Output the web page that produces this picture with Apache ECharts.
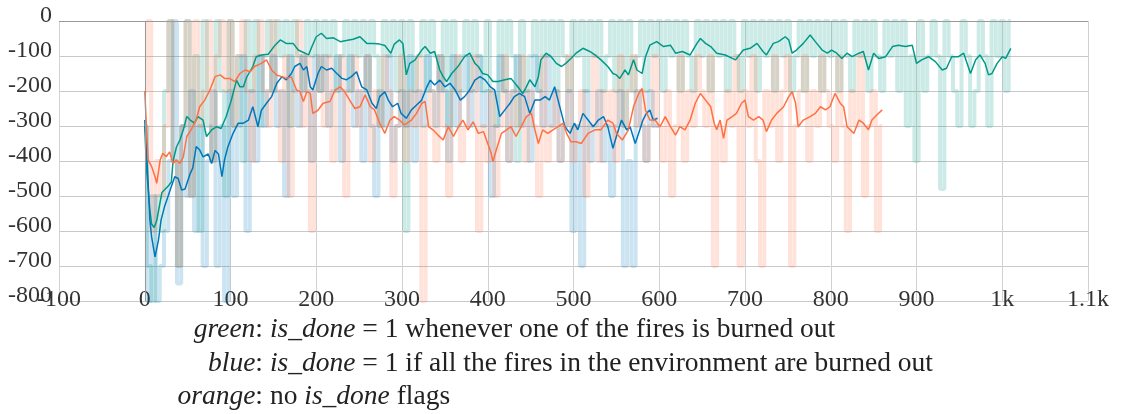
<!DOCTYPE html>
<html>
<head>
<meta charset="utf-8">
<script src="https://cdn.jsdelivr.net/npm/echarts@6/dist/echarts.min.js"></script>
<style>
  html, body { margin: 0; padding: 0; background: #fff; }
  #chart { width: 1123px; height: 414px; }
</style>
</head>
<body>
<div id="chart"></div>
<script>
// smoothed curves as (episode, reward) pairs
const greenX = [0,2,4,6,8,11,14,17,20,24,28,31,33,37,41,45,49,53,58,62,68,72,78,84,89,95,101,107,111,115,119,126,130,136,144,152,158,165,173,179,187,191,195,200,206,212,220,228,235,243,251,259,267,274,280,287,291,297,301,305,309,315,323,327,333,338,344,348,352,358,365,373,379,385,389,394,400,406,412,420,427,435,441,445,449,455,459,462,468,474,480,486,491,497,503,511,519,525,532,540,546,550,554,560,564,570,574,580,584,589,597,605,613,619,627,636,644,648,654,660,667,677,689,698,706,714,721,725,733,739,747,751,755,760,768,776,782,790,796,801,807,813,819,825,833,838,844,850,856,864,872,879,887,895,900,906,914,922,930,935,941,949,955,963,969,974,980,984,988,994,1000,1004,1010];
const greenY = [-300,-420,-480,-540,-580,-590,-570,-530,-490,-480,-470,-460,-400,-360,-340,-311,-273,-283,-292,-273,-283,-330,-311,-302,-307,-273,-226,-169,-188,-188,-160,-130,-102,-97,-95,-69,-54,-64,-64,-83,-92,-97,-73,-45,-35,-50,-48,-59,-56,-52,-45,-64,-64,-66,-70,-92,-66,-54,-64,-154,-121,-112,-83,-73,-92,-87,-140,-159,-173,-150,-131,-102,-92,-121,-130,-150,-154,-173,-173,-168,-164,-188,-207,-188,-168,-188,-160,-111,-92,-102,-121,-130,-121,-107,-92,-78,-87,-97,-111,-130,-150,-154,-164,-140,-154,-111,-140,-150,-102,-69,-59,-73,-69,-92,-87,-97,-64,-50,-64,-73,-92,-97,-111,-83,-78,-64,-87,-97,-64,-59,-45,-54,-92,-83,-64,-40,-59,-83,-92,-83,-92,-107,-92,-102,-92,-87,-140,-92,-107,-102,-73,-69,-73,-69,-121,-111,-102,-116,-140,-135,-102,-102,-92,-150,-111,-97,-121,-154,-150,-121,-102,-107,-78];

const blueX = [0,2,4,6,8,12,16,19,23,27,31,35,39,43,47,53,56,60,64,68,74,78,82,86,90,93,97,103,109,115,121,126,132,136,142,148,154,160,165,171,175,181,185,189,193,196,202,206,212,218,224,230,235,241,247,253,259,265,270,274,280,284,289,295,299,305,311,317,323,329,333,338,344,350,356,362,368,373,379,385,391,397,403,408,414,420,426,431,437,443,449,455,461,467,472,478,482,486,490,496,501,505,511,517,523,529,535,540,546,550,556,562,566,572,576,581,585,589,593,598];
const blueY = [-283,-368,-464,-569,-617,-674,-626,-569,-531,-502,-473,-445,-450,-483,-480,-436,-420,-359,-368,-388,-380,-407,-370,-380,-445,-397,-359,-321,-292,-292,-283,-245,-302,-255,-235,-216,-178,-159,-168,-150,-130,-121,-140,-130,-188,-197,-150,-130,-140,-135,-150,-164,-168,-159,-145,-188,-197,-235,-250,-216,-202,-226,-245,-235,-264,-278,-254,-240,-226,-188,-169,-183,-169,-188,-178,-197,-226,-216,-197,-169,-159,-169,-188,-197,-273,-254,-235,-216,-207,-216,-264,-226,-226,-216,-226,-188,-226,-264,-302,-321,-292,-311,-264,-283,-302,-283,-273,-302,-364,-330,-283,-311,-302,-350,-321,-283,-264,-254,-283,-278];

const orangeX = [0,2,4,8,12,14,18,21,25,29,33,37,41,45,49,54,60,64,70,76,82,88,93,99,105,111,117,123,128,136,142,148,154,160,165,171,177,181,185,189,193,196,202,208,216,222,228,233,239,245,251,257,263,268,274,280,286,291,297,303,311,317,323,327,331,336,342,348,354,360,366,371,377,383,389,395,400,404,406,410,416,422,427,433,439,445,451,455,459,464,470,476,482,488,492,497,503,509,517,525,532,540,546,550,557,564,570,576,580,584,589,595,601,607,613,619,624,630,636,642,648,654,660,664,667,671,675,679,685,690,696,700,704,710,716,721,725,731,737,745,751,755,759,762,768,776,782,788,794,799,805,811,815,819,821,827,833,838,844,848,854,860];
const orangeY = [-200,-302,-397,-416,-445,-464,-397,-378,-388,-374,-407,-397,-407,-388,-330,-311,-283,-245,-226,-197,-159,-154,-164,-164,-173,-150,-140,-145,-130,-121,-111,-140,-155,-159,-164,-160,-197,-202,-230,-202,-207,-264,-255,-235,-230,-197,-188,-202,-226,-250,-245,-211,-245,-254,-292,-321,-283,-273,-283,-297,-283,-264,-235,-230,-302,-311,-326,-340,-302,-330,-302,-283,-311,-288,-321,-316,-350,-378,-402,-368,-321,-311,-302,-330,-302,-273,-264,-311,-350,-311,-321,-311,-302,-292,-321,-345,-345,-350,-321,-311,-311,-283,-292,-321,-340,-311,-245,-207,-193,-255,-283,-283,-302,-273,-302,-326,-302,-311,-283,-235,-207,-226,-245,-292,-311,-283,-335,-283,-273,-264,-235,-226,-273,-283,-273,-283,-316,-283,-264,-245,-216,-202,-235,-302,-283,-273,-264,-245,-254,-245,-207,-235,-245,-302,-297,-321,-283,-292,-311,-283,-268,-254];

// raw episode rewards, one every 5 episodes
const rawStep = 5;
const greenRaw = [
  -300,-700,-800,-500,-600,-200,0,-400,-700,-300,
  0,-500,-100,-600,0,-300,-400,0,-200,-500,
  0,-300,-100,-400,0,-200,0,-300,-100,0,
  -200,0,-100,0,-300,0,-100,-200,0,-100,
  0,-200,0,-100,0,-200,-100,0,-200,0,
  -100,0,-200,0,-100,-300,0,-100,0,-200,
  0,-600,0,-200,-100,0,-200,0,-100,-200,
  0,-300,0,-200,-100,0,-200,0,-100,-200,
  0,-200,-300,0,-200,0,-100,-400,0,-200,
  -100,0,-200,0,-100,0,-200,0,-100,-200,
  0,-100,0,-200,0,-100,0,-200,-100,0,
  -200,0,-300,0,-200,-100,0,-200,0,-100,
  0,-200,0,-100,0,-200,0,-100,-200,0,
  -100,0,-200,0,-100,0,-200,0,-100,-200,
  0,-100,0,-200,0,-100,0,-200,0,-100,
  0,-200,-100,0,-200,0,-100,0,-200,0,
  -100,0,-200,0,-100,-200,0,-100,0,-200,
  0,-100,-200,0,-100,0,-200,0,-300,-100,
  -400,0,-200,-100,0,-100,-480,0,-100,-200,
  -300,0,-100,-300,-200,0,-100,-300,0,-100,
  0,-200,0
];
const blueRaw = [
  -300,-800,-500,-800,-700,-600,-400,0,-750,-300,
  -500,-200,-600,-300,-700,-400,-200,-700,-300,-800,
  -200,-500,-300,-100,-600,-200,-400,-100,-300,-200,
  -100,-300,-200,-500,-100,-200,-300,-100,-200,-400,
  -100,-200,-100,-300,-200,-100,-400,-200,-100,-300,
  -200,-400,-100,-300,-500,-200,-300,-100,-400,-300,
  -200,-300,-100,-400,-200,-300,-100,-200,-300,-100,
  -200,-400,-100,-300,-200,-100,-300,-200,-100,-300,
  -200,-500,-300,-100,-200,-400,-200,-100,-300,-200,
  -400,-100,-200,-300,-100,-300,-200,-400,-300,-200,
  -600,-300,-700,-200,-400,-300,-200,-400,-300,-500,
  -300,-200,-700,-400,-700,-200,-300,-400,-200,-300,
  -300
];
const orangeRaw = [
  -200,0,-600,-400,-500,-300,0,-400,-700,-300,
  0,-500,0,-300,-200,0,-400,-100,0,-200,
  0,-300,-100,0,-200,-400,-100,0,-200,-300,
  0,-200,-400,-100,-500,-200,0,-300,-100,-600,
  -200,-100,-300,-100,-400,-200,-100,-500,-200,-100,
  -300,-200,-100,-400,-200,-300,-100,-200,-500,-300,
  -100,-400,-200,-300,-100,-800,-300,-200,-400,-100,
  -300,-500,-200,-100,-400,-300,-200,-100,-600,-300,
  -400,-200,-500,-300,-100,-400,-200,-300,-100,-400,
  -200,-300,-500,-100,-400,-300,-200,-400,-300,-100,
  -400,-300,-200,-500,-300,-100,-400,-200,-300,-200,
  -400,-100,-300,-200,-100,-300,-200,-400,-300,-100,
  -300,-400,-200,-500,-300,-100,-400,-200,-300,-100,
  -200,-300,-100,-700,-300,-400,-200,-300,-100,-700,
  -200,-300,-100,-400,-700,-200,-300,-100,-400,-200,
  -100,-700,-300,-200,-100,-400,-200,-300,-100,-200,
  -300,-400,-100,-300,-600,-200,-300,-100,-500,-300,
  -200,-600,-300
];

const colors = { green: '#009988', blue: '#0077bb', orange: '#ff7043' };
const serif = 'Liberation Serif';

const pairs = (xs, ys) => xs.map((x, i) => [x, ys[i]]);
const rawPairs = (vals) => vals.map((v, i) => [i * rawStep, v]);

const rawSeries = (name, vals, color) => ({
  name: name + ' raw',
  type: 'line',
  data: rawPairs(vals),
  step: 'middle',
  symbol: 'none',
  silent: true,
  lineStyle: { color: color, width: 4, opacity: 0.2 },
  z: 1
});
const smoothSeries = (name, xs, ys, color) => ({
  name: name,
  type: 'line',
  data: pairs(xs, ys),
  symbol: 'none',
  lineStyle: { color: color, width: 1.5 },
  z: 3
});

const richText = (size) => ({
  fill: '#222', fontFamily: serif, fontSize: size, verticalAlign: 'middle',
  rich: { i: { fontStyle: 'italic', fontFamily: serif, fontSize: size } }
});
// axis labels go through rich text so the serif face is applied
const tickRich = { s: { fontFamily: serif, fontSize: 24, color: '#333' } };

const chart = echarts.init(document.getElementById('chart'));
chart.setOption({
  animation: false,
  textStyle: { fontFamily: serif },
  grid: { left: 59, right: 35, top: 21, bottom: 113 },
  xAxis: {
    type: 'value',
    min: -100,
    max: 1100,
    interval: 100,
    axisLine: { show: false },
    axisTick: { show: false },
    splitLine: { lineStyle: { color: '#d2d2d2' } },
    axisLabel: {
      margin: -13,
      showMinLabel: true,
      showMaxLabel: true,
      rich: tickRich,
      formatter: (v) => '{s|' + (v >= 1000 ? (v / 1000) + 'k' : String(v)) + '}'
    }
  },
  yAxis: {
    type: 'value',
    min: -800,
    max: 0,
    interval: 100,
    axisLine: { show: false },
    axisTick: { show: false },
    splitLine: { lineStyle: { color: '#c8c8c8' } },
    axisLabel: {
      margin: 7,
      verticalAlign: 'bottom',
      rich: { s: Object.assign({}, tickRich.s, { lineHeight: 11 }) },
      formatter: (v) => '{s|' + v + '}'
    }
  },
  series: [
    Object.assign(rawSeries('green', greenRaw, colors.green), {
      markLine: {
        silent: true,
        symbol: 'none',
        label: { show: false },
        lineStyle: { color: '#999', type: 'solid', width: 1 },
        data: [{ xAxis: 0 }, { yAxis: 0 }]
      }
    }),
    rawSeries('blue', blueRaw, colors.blue),
    rawSeries('orange', orangeRaw, colors.orange),
    smoothSeries('green', greenX, greenY, colors.green),
    smoothSeries('blue', blueX, blueY, colors.blue),
    smoothSeries('orange', orangeX, orangeY, colors.orange)
  ],
  graphic: [
    ['{i|green}:', ' {i|is_done} = 1 whenever one of the fires is burned out', 330],
    ['{i|blue}:', ' {i|is_done} = 1 if all the fires in the environment are burned out', 364],
    ['{i|orange}:', ' no {i|is_done} flags', 397]
  ].flatMap(([left, right, y]) => [
    { type: 'text', x: 263, y: y,
      style: Object.assign(richText(27.5), { text: left, align: 'right' }) },
    { type: 'text', x: 263, y: y,
      style: Object.assign(richText(27.5), { text: right, align: 'left' }) }
  ])
});

window.addEventListener('resize', () => chart.resize());
</script>
</body>
</html>
